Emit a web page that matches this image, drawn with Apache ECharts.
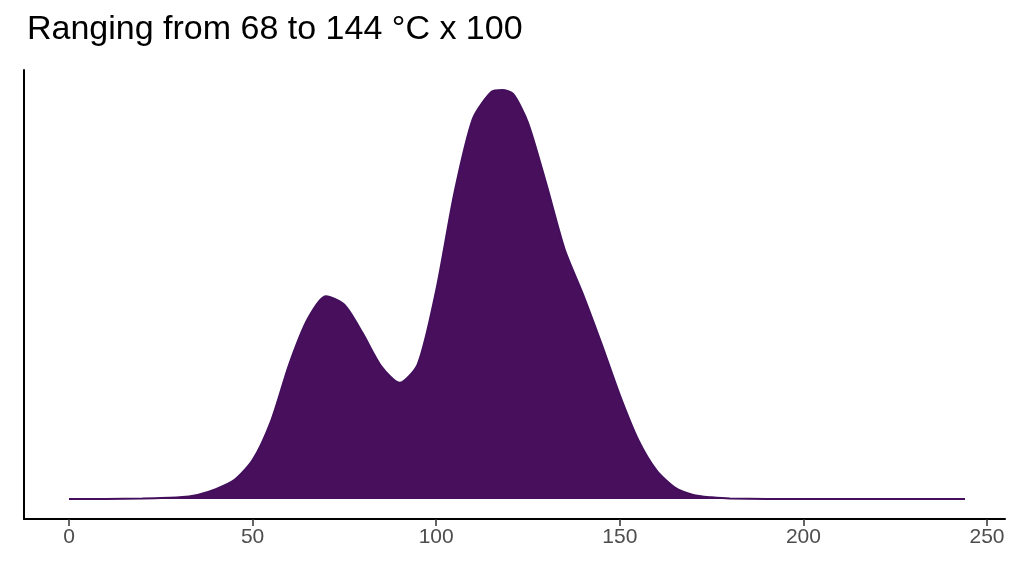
<!DOCTYPE html><html><head><meta charset="utf-8"><script src="https://cdn.jsdelivr.net/npm/echarts@6/dist/echarts.min.js"></script></head><body style="margin:0"><div id="c" style="width:1024px;height:576px"></div><script>
const xs=[0,10,20,30,35,40,45,50,55,60,65,70,75,80,85,90,95,100,105,110,115,118,121,125,130,135,140,145,150,155,160,165,170,175,180,200,220,244];
const ys=[0,0,0.001,0.004,0.01,0.024,0.046,0.095,0.19,0.33,0.44,0.496,0.475,0.405,0.325,0.284,0.33,0.51,0.75,0.93,0.995,1.0,0.99,0.92,0.77,0.61,0.5,0.38,0.254,0.145,0.07,0.028,0.01,0.004,0.001,0,0,0];
const xTicks=[0,50,100,150,200,250];
const data=xs.map((x,i)=>[x,ys[i]]);
const ch=echarts.init(document.getElementById('c'));
ch.setOption({
title:{text:'Ranging from 68 to 144 °C x 100',left:22,top:8,textStyle:{fontFamily:'Liberation Sans',fontSize:34,fontWeight:'normal',color:'#000'}},
grid:{left:24,right:19,top:70,bottom:57},
xAxis:{type:'value',min:-12.25,max:254.9,axisLine:{onZero:false,lineStyle:{color:'#000',width:2}},
 axisTick:{show:true,length:7,customValues:xTicks,lineStyle:{color:'#333',width:1.5}},splitLine:{show:false},
 axisLabel:{fontSize:21,color:'#4d4d4d',fontFamily:'Liberation Sans',margin:8,customValues:xTicks}},
yAxis:{type:'value',min:-0.049,max:1.049,axisLine:{show:true,onZero:false,lineStyle:{color:'#000',width:2}},axisTick:{show:false},axisLabel:{show:false},splitLine:{show:false}},
series:[{type:'line',data:data,smooth:0.25,symbol:'none',lineStyle:{color:'#440f5c',width:2},areaStyle:{color:'#470f5c',opacity:1,origin:0}}]
});
</script></body></html>
